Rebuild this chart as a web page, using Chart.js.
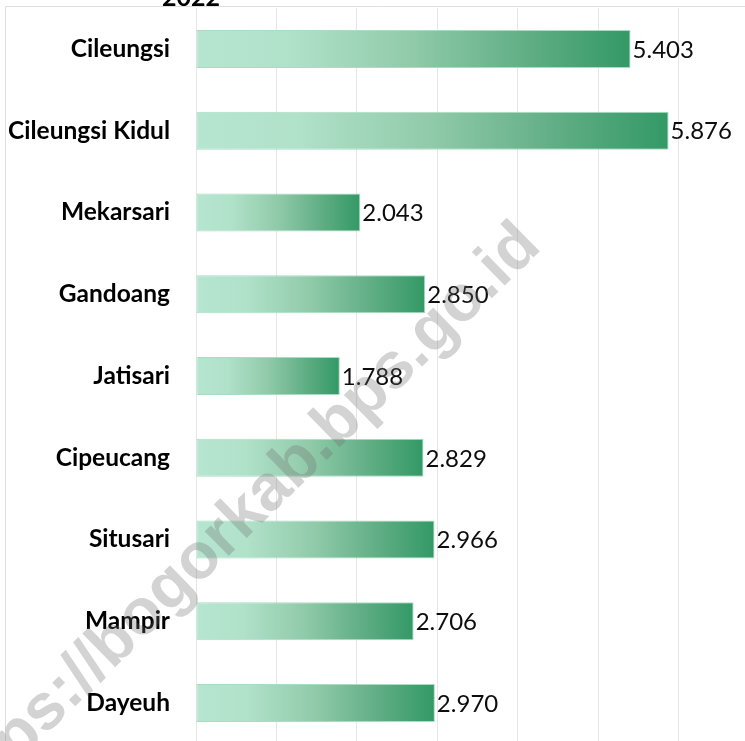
<!DOCTYPE html>
<html>
<head>
<meta charset="utf-8">
<script src="https://cdn.jsdelivr.net/npm/chart.js@4.4.1/dist/chart.umd.min.js"></script>
<style>
  html, body { margin: 0; padding: 0; background: #ffffff; overflow: hidden; width: 745px; height: 741px; }
  #wrap { position: absolute; left: 0; top: 0; width: 760px; height: 745px; }
</style>
</head>
<body>
<div id="wrap"><canvas id="c" width="760" height="745"></canvas></div>
<script>
const categories = ["Cileungsi", "Cileungsi Kidul", "Mekarsari", "Gandoang", "Jatisari", "Cipeucang", "Situsari", "Mampir", "Dayeuh"];
const values = [5403, 5876, 2043, 2850, 1788, 2829, 2966, 2706, 2970];
const titleText = "2022";
const watermarkText = "https://bogorkab.bps.go.id";

function fmt(v) {
  const th = Math.floor(v / 1000);
  const rest = String(v % 1000).padStart(3, '0');
  return th > 0 ? th + '.' + rest : String(v);
}

function barGradient(ctx) {
  const chart = ctx.chart;
  const xs = chart.scales && chart.scales.x;
  if (!xs || !chart.chartArea || ctx.raw === undefined) return '#8ac7a6';
  const x0 = xs.getPixelForValue(0);
  const x1 = xs.getPixelForValue(ctx.raw);
  const g = chart.ctx.createLinearGradient(x0, 0, x1, 0);
  g.addColorStop(0, '#b6e6d0');
  g.addColorStop(0.22, '#b0e1c9');
  g.addColorStop(0.5, '#90caa9');
  g.addColorStop(0.78, '#5dac82');
  g.addColorStop(1, '#339966');
  return g;
}

const decor = {
  id: 'decor',
  beforeDraw(chart) {
    const c = chart.ctx;
    c.save();
    c.strokeStyle = '#dedede';
    c.lineWidth = 1;
    c.beginPath();
    c.moveTo(5.5, 760); c.lineTo(5.5, 6.5); c.lineTo(760, 6.5);
    c.stroke();
    c.font = 'bold 25px Lato';
    c.fillStyle = '#000';
    c.textAlign = 'center';
    c.textBaseline = 'alphabetic';
    c.fillText(titleText, 191, 6);
    c.restore();
  },
  afterDatasetsDraw(chart) {
    const c = chart.ctx;
    const meta = chart.getDatasetMeta(0);
    c.save();
    c.font = '24px Lato';
    c.fillStyle = '#0d0d0d';
    c.textAlign = 'left';
    c.textBaseline = 'middle';
    meta.data.forEach((bar, i) => {
      c.fillText(fmt(values[i]), bar.x + 2, bar.y + 1);
    });
    c.restore();
  },
  afterDraw(chart) {
    const c = chart.ctx;
    c.save();
    c.translate(250, 535);
    c.rotate(-44.4 * Math.PI / 180);
    c.font = 'bold 65px "Liberation Sans"';
    c.fillStyle = 'rgba(110,110,110,0.30)';
    c.textAlign = 'center';
    c.textBaseline = 'alphabetic';
    c.fillText(watermarkText, 0, 0);
    c.restore();
  }
};

new Chart(document.getElementById('c'), {
  type: 'bar',
  data: {
    labels: categories,
    datasets: [{
      data: values,
      backgroundColor: barGradient,
      borderColor: '#a9ddc3',
      borderWidth: 1,
      borderSkipped: false,
      barPercentage: 0.465,
      categoryPercentage: 1
    }]
  },
  options: {
    indexAxis: 'y',
    responsive: false,
    animation: false,
    devicePixelRatio: 1,
    layout: { padding: { top: 8, bottom: 1, left: 0, right: 1 } },
    plugins: { legend: { display: false }, tooltip: { enabled: false }, title: { display: false } },
    scales: {
      x: {
        min: 0, max: 7000,
        ticks: { display: false, stepSize: 1000 },
        grid: { color: '#e6e6e6', lineWidth: 1, drawTicks: false },
        border: { display: false },
        afterFit(s) { s.height = 0; s.paddingLeft = 0; s.paddingRight = 0; }
      },
      y: {
        ticks: { color: '#000', font: { family: 'Lato', weight: 'bold', size: 24.5 }, padding: 26 },
        grid: { display: false, drawTicks: false },
        border: { display: false },
        afterFit(s) { s.width = 196; s.paddingTop = 0; s.paddingBottom = 0; }
      }
    }
  },
  plugins: [decor]
});
</script>
</body>
</html>
